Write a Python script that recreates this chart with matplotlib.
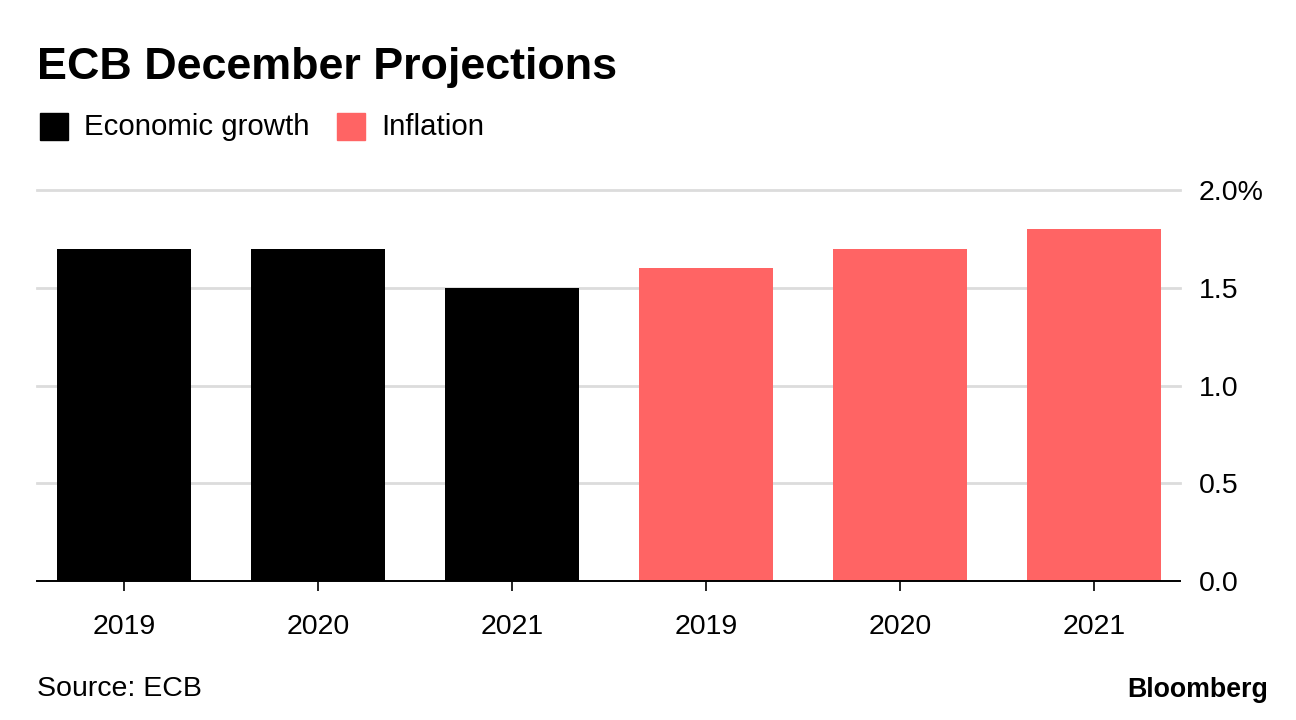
import matplotlib
matplotlib.use("Agg")
import matplotlib.pyplot as plt
from matplotlib.patches import Rectangle
from matplotlib.ticker import FuncFormatter, FixedLocator

plt.rcParams['font.family'] = ['Liberation Sans', 'DejaVu Sans']

title = "ECB December Projections"
series_names = ["Economic growth", "Inflation"]
series_colors = ["#000000", "#ff6464"]
years = ["2019", "2020", "2021"]
growth = [1.7, 1.7, 1.5]
inflation = [1.6, 1.7, 1.8]
yticks = [0.0, 0.5, 1.0, 1.5, 2.0]

W, H = 1296, 720
fig = plt.figure(figsize=(W / 100, H / 100), dpi=100)
fig.patch.set_facecolor("white")

ax = fig.add_axes([37 / W, 139 / H, (1180 - 37) / W, (581 - 190) / H])

labels = years + years
values = growth + inflation
colors = [series_colors[0]] * len(growth) + [series_colors[1]] * len(inflation)
xs = list(range(len(values)))
ax.bar(xs, values, width=0.69, color=colors, zorder=3)

ax.set_xlim(-0.448, 5.443)
ax.set_ylim(0, 2.0)
ax.yaxis.set_major_locator(FixedLocator(yticks))
ax.yaxis.set_major_formatter(FuncFormatter(lambda v, p: f"{v:.1f}%" if abs(v - 2.0) < 1e-9 else f"{v:.1f}"))
ax.yaxis.tick_right()
ax.tick_params(axis='y', length=0, pad=13.5, labelsize=20.5, labelcolor="#000000")
ax.set_xticks(xs)
ax.set_xticklabels(labels)
ax.tick_params(axis='x', length=7.5, width=1.2, pad=16, labelsize=20.5, color="#000000")

for v in yticks[1:]:
    ax.axhline(v, color="#dcdcdc", lw=2, zorder=1, clip_on=False)

for s in ["top", "left", "right"]:
    ax.spines[s].set_visible(False)
ax.spines["bottom"].set_linewidth(1.4)
ax.spines["bottom"].set_zorder(4)
ax.set_facecolor("white")

fig.text(37 / W, 1 - 67 / H, title, fontsize=32.3, fontweight="bold", va="center", ha="left")

# legend
leg_items = [(40, series_names[0], series_colors[0]), (337, series_names[1], series_colors[1])]
for x0, name, col in leg_items:
    fig.patches.append(Rectangle((x0 / W, 1 - 140 / H), 28 / W, 27 / H, transform=fig.transFigure,
                                 color=col, figure=fig))
    fig.text((x0 + 44) / W, 1 - 127 / H, name, fontsize=21.2, va="center", ha="left")

fig.text(37 / W, 1 - 689 / H, "Source: ECB", fontsize=20.5, va="center", ha="left")
fig.text(1268 / W, 1 - 690 / H, "Bloomberg", fontsize=19.3, fontweight="bold", va="center", ha="right")

fig.savefig("out.png", dpi=100)
